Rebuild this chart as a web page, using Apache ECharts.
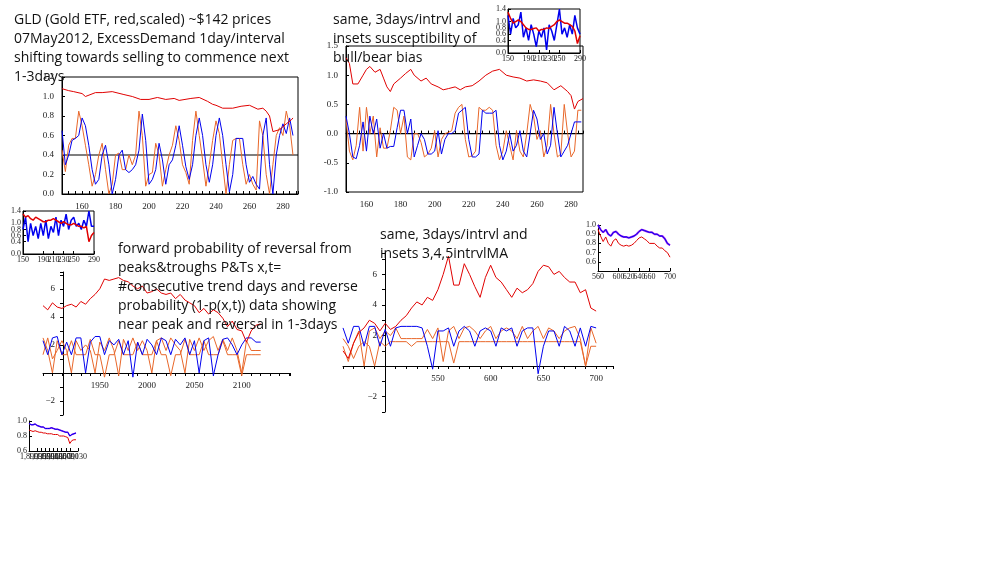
<!DOCTYPE html>
<html><head><meta charset="utf-8">
<script src="https://cdn.jsdelivr.net/npm/echarts@6/dist/echarts.min.js"></script>
<style>
body{margin:0;background:#fff;width:995px;height:583px;overflow:hidden;position:relative;font-family:"Open Sans",sans-serif}
#main{position:absolute;left:0;top:0;width:995px;height:583px}
.t{position:absolute;font-size:14px;line-height:19px;color:#111;white-space:nowrap;z-index:5}
</style></head><body>
<div id="main"></div>
<div class="t" style="left:14px;top:9px">GLD (Gold ETF, red,scaled) ~$142 prices<br>07May2012, ExcessDemand 1day/interval<br>shifting towards selling to commence next<br>1-3days</div>
<div class="t" style="left:333px;top:9px">same, 3days/intrvl and<br>insets susceptibility of<br>bull/bear bias</div>
<div class="t" style="left:118px;top:238px">forward probability of reversal from<br>peaks&amp;troughs P&amp;Ts x,t=<br>#consecutive trend days and reverse<br>probability (1-p(x,t)) data showing<br>near peak and reversal in 1-3days</div>
<div class="t" style="left:380px;top:224px">same, 3days/intrvl and<br>insets 3,4,5intrvlMA</div>
<script>
const RED = '#e00000', BLUE = '#0000ee', ORANGE = '#e8672a', PURPLE = '#a020f0';

// plot 1: 1 day/interval, x from 148 step 2
const p1Red = [[148,1.08],[152,1.06],[155,1.05],[160,1.03],[162,1.0],[168,1.04],[172,1.04],[178,1.05],[185,1.02],[190,1.0],[195,0.97],[200,0.97],[205,0.99],[210,0.97],[215,0.98],[218,0.96],[225,0.98],[230,0.99],[235,0.95],[238,0.92],[240,0.91],[244,0.88],[250,0.88],[255,0.9],[260,0.91],[265,0.87],[268,0.88],[270,0.85],[272,0.8],[274,0.64],[278,0.66],[282,0.72],[285,0.76],[286,0.78]];
const p1Blue = [0.65,0.3,0.4,0.55,0.57,0.6,0.78,0.7,0.5,0.25,0.1,0.15,0.4,0.5,0.3,0.0,0.15,0.4,0.45,0.25,0.22,0.25,0.3,0.45,0.82,0.55,0.1,0.15,0.25,0.52,0.35,0.1,0.3,0.35,0.5,0.7,0.5,0.28,0.15,0.3,0.6,0.78,0.6,0.3,0.12,0.3,0.6,0.78,0.6,0.3,0.02,0.2,0.57,0.57,0.57,0.3,0.12,0.18,0.1,0.05,0.6,0.78,0.3,0.0,0.4,0.6,0.72,0.62,0.78,0.6];
const p1Orange = [0.45,0.23,0.5,0.57,0.57,0.85,0.7,0.5,0.3,0.08,0.2,0.4,0.52,0.25,0.0,0.1,0.4,0.42,0.25,0.25,0.4,0.3,0.4,0.85,0.6,0.08,0.2,0.22,0.52,0.4,0.08,0.25,0.4,0.5,0.7,0.55,0.3,0.22,0.1,0.55,0.85,0.6,0.35,0.08,0.3,0.55,0.75,0.62,0.3,0.0,0.3,0.55,0.57,0.57,0.3,0.1,0.2,0.1,0.04,0.75,0.6,0.2,0.0,0.3,0.6,0.68,0.6,0.85,0.7,0.4];

// plot 2: 3 days/interval, x from 148 step 2
const p2Red = [[148,1.3],[150,1.2],[152,0.85],[155,0.85],[158,1.0],[160,1.1],[162,1.15],[165,1.05],[168,1.1],[170,0.95],[172,0.8],[174,0.72],[176,0.85],[180,0.95],[183,1.03],[186,1.1],[188,1.0],[192,0.9],[195,0.95],[198,0.85],[202,0.8],[205,0.75],[208,0.77],[212,0.8],[215,0.75],[218,0.8],[222,0.82],[226,0.9],[230,1.0],[234,1.07],[238,1.1],[242,1.0],[246,0.97],[250,0.95],[254,0.9],[258,0.92],[262,0.9],[266,0.87],[270,0.75],[274,0.82],[278,0.72],[280,0.65],[282,0.42],[284,0.55],[287,0.6]];
const p2Blue = [0.3,0.0,-0.4,-0.43,-0.2,0.2,-0.3,0.3,0.0,0.25,-0.25,0.0,-0.25,-0.22,-0.22,0.1,0.4,0.4,0.0,0.25,-0.4,-0.2,0.0,-0.1,-0.35,-0.35,-0.3,0.05,-0.35,-0.1,0.0,0.0,0.05,0.35,0.4,0.45,-0.1,-0.4,-0.4,-0.35,0.4,0.35,0.35,0.35,0.4,-0.2,-0.45,-0.3,0.0,-0.3,-0.2,0.05,-0.3,-0.4,0.0,0.4,0.25,-0.1,0.0,-0.35,-0.2,0.45,0.0,-0.4,-0.3,-0.2,0.0,0.2,0.2,0.2];
const p2Orange = [0.25,-0.3,-0.45,-0.2,0.45,-0.3,0.45,0.0,0.3,-0.4,0.1,-0.25,-0.25,0.05,0.45,0.4,0.0,0.3,-0.4,-0.45,0.0,0.0,-0.15,-0.4,-0.35,-0.25,0.05,-0.4,-0.1,0.0,0.02,0.05,0.35,0.45,0.5,-0.1,-0.4,-0.38,-0.3,0.45,0.4,0.4,0.45,0.4,-0.2,-0.45,-0.3,0.05,-0.2,-0.45,0.05,-0.3,-0.4,0.0,0.5,0.3,-0.1,0.05,-0.4,-0.2,0.5,0.0,-0.4,-0.35,0.5,0.0,-0.4,-0.3,0.4,0.4];

// plot 3: x from 1890 step 5
const p3Red = [4.8,4.5,5.0,4.7,4.6,4.8,4.9,4.7,5.1,4.9,5.3,5.6,6.0,6.7,6.6,6.7,6.8,6.6,6.5,6.2,6.0,6.2,5.7,5.8,6.0,5.7,5.6,5.7,5.3,5.6,5.2,5.0,4.8,4.3,4.6,4.2,4.5,4.3,3.9,3.3,3.7,3.1,3.0,2.2,3.0,3.4,3.5];
const p3Blue = [2.3,1.3,2.5,2.6,1.3,2.2,1.3,2.5,2.5,0.0,2.2,2.6,2.6,1.3,2.3,2.0,2.4,1.3,2.3,-0.3,2.2,1.3,2.4,2.0,1.3,2.5,2.3,1.3,2.4,2.0,2.5,1.3,2.3,0.0,2.3,2.5,-0.2,1.3,2.4,2.5,2.0,1.3,2.0,2.5,2.5,2.2,2.2];
const p3Orange = [1.3,2.5,1.0,1.6,2.3,1.6,0.0,2.3,1.6,2.0,1.6,0.0,2.2,1.6,2.5,1.6,-0.2,2.4,1.6,2.5,1.6,2.3,1.6,0.0,2.3,2.5,1.6,2.5,2.0,1.6,0.0,2.4,1.6,2.5,1.6,2.3,2.6,1.6,2.4,1.6,2.5,1.6,0.0,2.3,1.6,1.6,1.6];
const p3Orange2 = [2.5,1.6,0.0,2.3,1.3,1.3,2.3,1.3,1.3,1.3,2.4,1.3,1.3,-0.3,1.3,1.3,2.3,1.3,1.3,1.3,2.2,1.3,1.3,1.3,2.3,1.3,1.3,-0.2,1.3,1.3,2.4,1.3,1.3,1.3,2.3,1.3,1.3,1.3,2.3,1.3,1.3,1.3,-0.2,1.3,1.3,1.3,1.3];

// plot 4: x from 460 step 5
const p4Red = [1.0,0.5,1.5,2.2,2.5,3.0,2.8,2.3,2.8,2.4,2.6,3.0,3.3,3.8,4.2,4.0,4.5,4.3,5.0,6.0,7.2,5.3,5.3,6.7,6.0,5.2,4.5,5.8,6.6,5.8,5.5,5.0,4.5,5.1,4.8,5.0,5.4,6.2,6.6,6.5,6.0,6.2,5.8,5.5,5.5,4.8,5.0,3.8,3.6];
const p4Blue = [2.5,1.5,2.6,2.6,1.3,2.6,2.6,1.3,2.4,1.3,2.5,2.6,2.6,2.6,2.6,2.5,1.3,-0.2,2.3,2.3,2.5,1.3,2.3,2.6,2.3,1.3,2.3,2.5,2.3,1.3,2.5,2.3,2.5,1.3,2.3,2.5,2.5,-0.5,1.3,2.3,2.3,1.3,2.6,2.3,1.3,2.5,1.3,2.6,2.5];
const p4Orange = [1.3,0.3,1.5,2.3,0.0,2.3,2.5,1.8,2.3,2.0,2.5,1.8,1.8,1.8,1.8,1.8,2.4,1.8,2.5,0.3,2.3,2.6,1.8,2.5,2.6,2.3,1.8,2.3,2.6,1.8,2.3,2.5,2.3,1.8,2.6,1.8,2.3,2.6,1.8,2.5,2.3,1.8,2.3,2.5,2.6,1.8,0.0,2.5,1.5];
const p4Orange2 = [1.8,1.3,0.5,1.3,1.6,1.3,0.0,1.6,1.3,1.6,1.6,1.6,1.6,1.3,1.6,1.6,1.6,1.6,1.6,1.6,1.6,0.2,1.6,1.6,1.6,1.6,1.6,1.6,1.6,1.6,1.6,1.6,1.6,1.6,1.6,1.6,1.6,1.6,1.6,1.6,1.6,1.6,1.6,1.6,1.6,1.6,0.0,1.3,1.3];

// insets
const in2Red = [1.3,1.1,0.95,1.0,1.05,1.0,0.9,0.8,0.75,0.75,0.78,0.8,0.7,0.75,0.75,0.8,0.78,0.85,0.9,1.0,1.05,1.0,0.95,0.95,0.9,0.85,0.7,0.3,0.55];
const in2Blue = [1.2,0.6,1.1,0.8,0.9,1.3,0.5,0.8,0.4,0.9,0.6,0.2,0.7,0.5,0.8,0.1,0.9,0.7,0.4,0.9,1.4,0.6,0.8,0.5,0.9,0.6,1.2,0.8,0.6];
const in1Red = [1.3,1.2,1.25,1.15,1.1,1.2,1.15,1.1,1.05,1.05,1.1,1.1,1.15,1.1,1.05,1.0,1.05,1.0,0.95,0.95,1.0,0.95,0.9,0.9,0.85,0.9,0.4,0.6,0.7];
const in1Blue = [0.8,1.2,0.4,1.0,0.6,0.9,0.5,1.0,0.6,1.1,0.5,0.9,0.7,1.2,0.6,1.1,0.9,1.3,0.8,1.1,1.2,0.9,1.0,0.8,1.1,0.9,1.4,0.9,0.9];
const in3Blue = [0.97,0.95,0.95,0.96,0.94,0.93,0.92,0.92,0.9,0.9,0.9,0.91,0.9,0.89,0.89,0.88,0.87,0.86,0.85,0.85,0.8,0.82,0.83,0.84];
const in3Red = [0.88,0.87,0.86,0.87,0.86,0.85,0.85,0.84,0.84,0.83,0.83,0.83,0.82,0.82,0.82,0.8,0.8,0.8,0.79,0.78,0.7,0.74,0.75,0.75];
const in4Blue = [1.0,0.95,0.92,0.95,0.9,0.88,0.92,0.93,0.9,0.88,0.87,0.87,0.86,0.87,0.88,0.9,0.93,0.95,0.94,0.93,0.92,0.92,0.9,0.9,0.88,0.88,0.85,0.8,0.78];
const in4Red = [0.95,0.88,0.82,0.87,0.8,0.77,0.83,0.85,0.8,0.78,0.77,0.78,0.77,0.78,0.8,0.83,0.86,0.87,0.85,0.83,0.8,0.8,0.8,0.77,0.75,0.75,0.72,0.7,0.65];

function xy(start, step, arr) { return arr.map((v, i) => [start + step * i, v]); }

const lbl = { fontFamily: 'Liberation Serif', fontSize: 9, color: '#222' };
const axLine = { show: true, lineStyle: { color: '#000', width: 1 } };
const tick = { show: true, inside: true, length: 3, lineStyle: { color: '#000' } };
const outTick = { show: true, length: 3, lineStyle: { color: '#000' } };

const grids = [], xAxes = [], yAxes = [], series = [];
function addGrid(g, xa, ya) {
  grids.push(Object.assign({ show: false, borderColor: '#000', borderWidth: 1 }, g));
  const gi = grids.length - 1;
  xAxes.push(Object.assign({ type: 'value', gridIndex: gi, axisLine: axLine, axisTick: tick, splitLine: { show: false }, axisLabel: Object.assign({ margin: 5 }, lbl) }, xa));
  yAxes.push(Object.assign({ type: 'value', gridIndex: gi, axisLine: axLine, axisTick: tick, splitLine: { show: false }, axisLabel: Object.assign({ margin: 5 }, lbl) }, ya));
  return gi;
}
function line(gi, data, color, w) {
  series.push({ type: 'line', xAxisIndex: gi, yAxisIndex: gi, data, symbol: 'none',
    lineStyle: { color, width: w || 1 }, animation: false });
}
function hline(gi, x0, x1, y) { line(gi, [[x0, y], [x1, y]], '#000', 1.2); }
const skipLbl = (f) => Object.assign({}, lbl, { formatter: f });

// plot 1
let g = addGrid({ left: 62, top: 77, width: 236, height: 117, show: true },
  { min: 148, max: 289, interval: 4, axisLabel: skipLbl(v => v % 20 === 0 ? v : '') },
  { min: 0, max: 1.2, interval: 0.2, axisLabel: skipLbl(v => v.toFixed(1)) });
hline(g, 148, 289, 0.4);
line(g, xy(148, 2, p1Orange), ORANGE);
line(g, xy(148, 2, p1Blue), BLUE);
line(g, p1Red, RED);

// plot 2
g = addGrid({ left: 346, top: 46, width: 237, height: 146, show: true },
  { min: 148, max: 287, interval: 4, axisLabel: skipLbl(v => v % 20 === 0 ? v : '') },
  { min: -1, max: 1.5, interval: 0.5, axisLabel: skipLbl(v => v.toFixed(1)) });
hline(g, 148, 287, 0);
line(g, xy(148, 2, p2Orange), ORANGE);
line(g, xy(148, 2, p2Blue), BLUE);
line(g, p2Red, RED);

// plot 3: data grid, then axis-only grids crossing at origin
g = addGrid({ left: 43, top: 272, width: 247, height: 143 },
  { min: 1890, max: 2151, show: false }, { min: -3, max: 7.2, show: false });
line(g, xy(1890, 5, p3Orange2), ORANGE);
line(g, xy(1890, 5, p3Orange), ORANGE);
line(g, xy(1890, 5, p3Blue), BLUE);
line(g, xy(1890, 5, p3Red), RED);
addGrid({ left: 43, top: 272, width: 247, height: 101 },
  { min: 1890, max: 2151, interval: 10, axisTick: outTick, axisLabel: skipLbl(v => v % 50 === 0 && v > 1900 && v < 2150 ? v : '') },
  { min: 0, max: 7.2, show: false });
addGrid({ left: 63, top: 272, width: 1, height: 143 },
  { min: 0, max: 1, show: false },
  { min: -3, max: 7.2, interval: 1, axisTick: outTick,
    axisLabel: skipLbl(v => (v % 2 === 0 && v !== 0) ? (v < 0 ? '\u2212' + (-v) : v) : '') });

// plot 4
g = addGrid({ left: 343, top: 253, width: 270, height: 157 },
  { min: 460, max: 716, show: false }, { min: -2.87, max: 7.4, show: false });
line(g, xy(460, 5, p4Orange2), ORANGE);
line(g, xy(460, 5, p4Orange), ORANGE);
line(g, xy(460, 5, p4Blue), BLUE);
line(g, xy(460, 5, p4Red), RED);
addGrid({ left: 343, top: 253, width: 270, height: 113 },
  { min: 460, max: 716, interval: 10, axisTick: outTick, axisLabel: skipLbl(v => v % 50 === 0 && v > 500 ? v : '') },
  { min: 0, max: 7.4, show: false });
addGrid({ left: 385, top: 253, width: 1, height: 159 },
  { min: 0, max: 1, show: false },
  { min: -3, max: 7.4, interval: 1, axisTick: outTick,
    axisLabel: skipLbl(v => (v % 2 === 0 && v !== 0) ? (v < 0 ? '\u2212' + (-v) : v) : '') });

// insets
const small = Object.assign({}, lbl, { fontSize: 8, margin: 2, showMinLabel: true, showMaxLabel: true, hideOverlap: false });
g = addGrid({ left: 508, top: 9, width: 72, height: 44, show: true },
  { min: 150, max: 290, interval: 20, axisLabel: Object.assign({}, small) },
  { min: 0, max: 1.4, interval: 0.2, axisLabel: Object.assign({}, small, { formatter: v => v.toFixed(1) }) });
line(g, xy(150, 5, in2Blue), BLUE, 1.5);
line(g, xy(150, 5, in2Red), RED, 1.5);

g = addGrid({ left: 23, top: 211, width: 71, height: 43, show: true },
  { min: 150, max: 290, interval: 20, axisLabel: Object.assign({}, small) },
  { min: 0, max: 1.4, interval: 0.2, axisLabel: Object.assign({}, small, { formatter: v => v.toFixed(1) }) });
line(g, xy(150, 5, in1Blue), BLUE, 1.5);
line(g, xy(150, 5, in1Red), RED, 1.5);

g = addGrid({ left: 29, top: 421, width: 49, height: 30 },
  { min: 1890, max: 2130, interval: 20, axisLabel: Object.assign({}, small) },
  { min: 0.6, max: 1.0, interval: 0.1, axisLabel: Object.assign({}, small, { formatter: v => v.toFixed(1) }) });
line(g, xy(1890, 10, in3Blue), PURPLE, 1.5);
line(g, xy(1890, 10, in3Blue), BLUE, 1);
line(g, xy(1890, 10, in3Red), RED, 1);

g = addGrid({ left: 598, top: 225, width: 72, height: 46 },
  { min: 560, max: 700, interval: 20, axisLabel: Object.assign({}, small) },
  { min: 0.5, max: 1.0, interval: 0.1, axisLabel: Object.assign({}, small, { formatter: v => v >= 0.6 ? v.toFixed(1) : '' }) });
line(g, xy(560, 5, in4Blue), PURPLE, 2);
line(g, xy(560, 5, in4Blue), BLUE, 1);
line(g, xy(560, 5, in4Red), RED, 1);

const chart = echarts.init(document.getElementById('main'));
chart.setOption({ animation: false, grid: grids, xAxis: xAxes, yAxis: yAxes, series });
</script>
</body></html>
